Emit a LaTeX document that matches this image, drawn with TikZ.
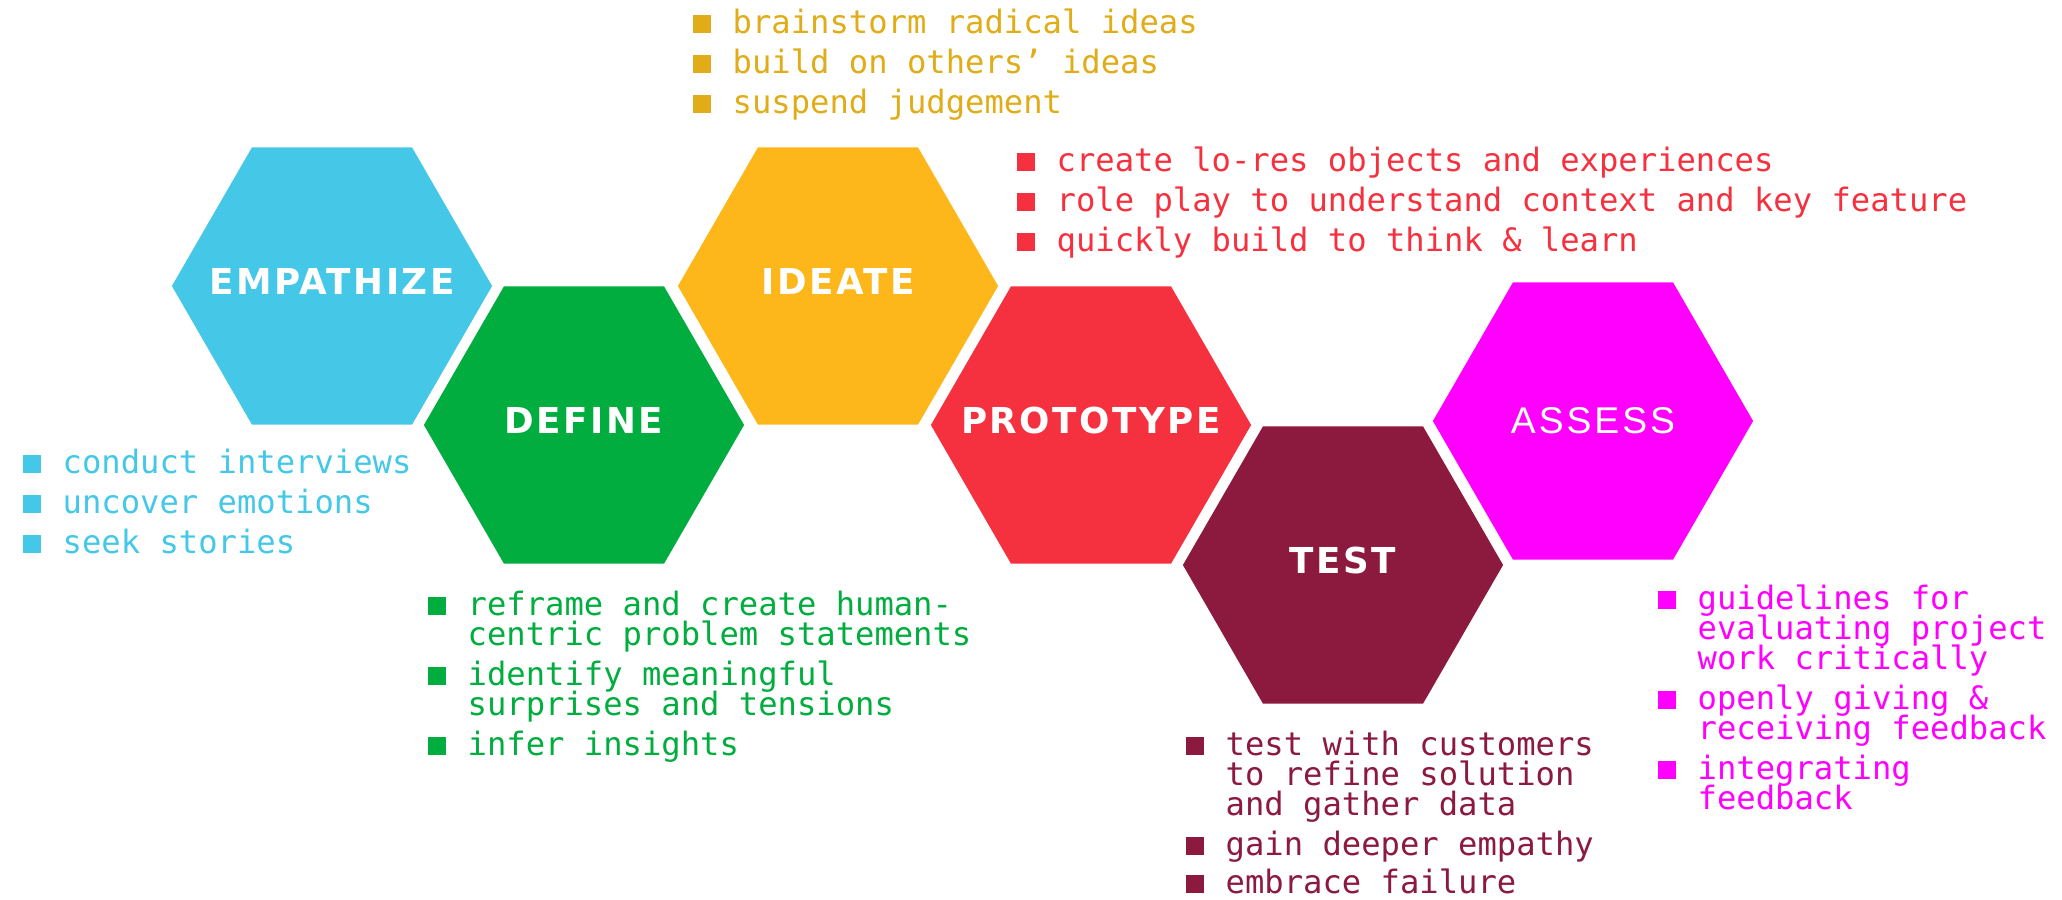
\documentclass[tikz,border=0pt]{standalone}
\usepackage{fontspec}
\usetikzlibrary{shapes.geometric}
\newfontfamily\hexfont[LetterSpace=7]{DejaVu Sans}
\newfontfamily\assfont[LetterSpace=8]{Liberation Sans}
\newfontfamily\listfont{DejaVu Sans Mono}

\definecolor{empcol}{HTML}{45C8E8}
\definecolor{defcol}{HTML}{00AD3E}
\definecolor{ideacol}{HTML}{FDB71A}
\definecolor{ideatxt}{HTML}{E0AC17}
\definecolor{protcol}{HTML}{F5313F}
\definecolor{testcol}{HTML}{8C1A3F}
\definecolor{asscol}{HTML}{FF00FF}

\def\sq{\makebox[0.40cm][l]{\rule{0.18cm}{0.18cm}}}
\def\ind{\hspace*{0.40cm}}
\def\gap{\\[0.10cm]}
\def\tasks#1{\parbox[t]{10cm}{\lineskiplimit=-1cm\lineskip=0pt #1}}

\tikzset{
  hexa/.style={regular polygon, regular polygon sides=6, minimum size=3.2cm,
    inner sep=0pt, outer sep=0pt},
  hexlabel/.style={text=white, inner sep=0pt, yshift=0.05cm,
    font=\hexfont\bfseries\fontsize{10.15}{12}\selectfont},
  todo/.style={anchor=base west, inner sep=0pt, text=#1,
    font=\listfont\fontsize{9.15}{8.54}\selectfont}
}

\begin{document}
\begin{tikzpicture}[x=0.01cm, y=-0.01cm]
\useasboundingbox (0,0) rectangle (2062,899);

% the six stages
\node[hexa, fill=empcol] (emp) at (332,286) {};
\node[hexa, fill=defcol] (def) at (584,425) {};
\node[hexa, fill=ideacol] (idea) at (838,286) {};
\node[hexa, fill=protcol] (prot) at (1091,425) {};
\node[hexa, fill=testcol] (test) at (1343,565) {};
\node[hexa, fill=asscol] (ass) at (1593,421) {};

\node[hexlabel] (emptxt) at (emp) {EMPATHIZE};
\node[hexlabel] (deftxt) at (def) {DEFINE};
\node[hexlabel] (ideatxt) at (idea) {IDEATE};
\node[hexlabel] (prottxt) at (prot) {PROTOTYPE};
\node[hexlabel] (testtxt) at (test) {TEST};
\node[hexlabel, yshift=-0.05cm, font=\assfont\fontsize{10.6}{12}\selectfont] (asstxt) at (ass) {ASSESS};

% what each stage is about
\node[todo=empcol] (emplist) at (22,473) {\tasks{%
  \sq conduct interviews\gap
  \sq uncover emotions\gap
  \sq seek stories}};
\node[todo=ideatxt] (idealist) at (692,33) {\tasks{%
  \sq brainstorm radical ideas\gap
  \sq build on others’ ideas\gap
  \sq suspend judgement}};
\node[todo=protcol] (protlist) at (1016,171) {\tasks{%
  \sq create lo-res objects and experiences\gap
  \sq role play to understand context and key feature\gap
  \sq quickly build to think \& learn}};
\node[todo=defcol] (deflist) at (427,615) {\tasks{%
  \sq reframe and create human-\\
  \ind centric problem statements\gap
  \sq identify meaningful\\
  \ind surprises and tensions\gap
  \sq infer insights}};
\node[todo=testcol] (testlist) at (1185,755) {\tasks{%
  \sq test with customers\\
  \ind to refine solution\\
  \ind and gather data\gap
  \sq gain deeper empathy\\[0.08cm]
  \sq embrace failure}};
\node[todo=asscol] (asslist) at (1657,609) {\tasks{%
  \sq guidelines for\\
  \ind evaluating project\\
  \ind work critically\gap
  \sq openly giving \&\\
  \ind receiving feedback\gap
  \sq integrating\\
  \ind feedback}};
\end{tikzpicture}
\end{document}
